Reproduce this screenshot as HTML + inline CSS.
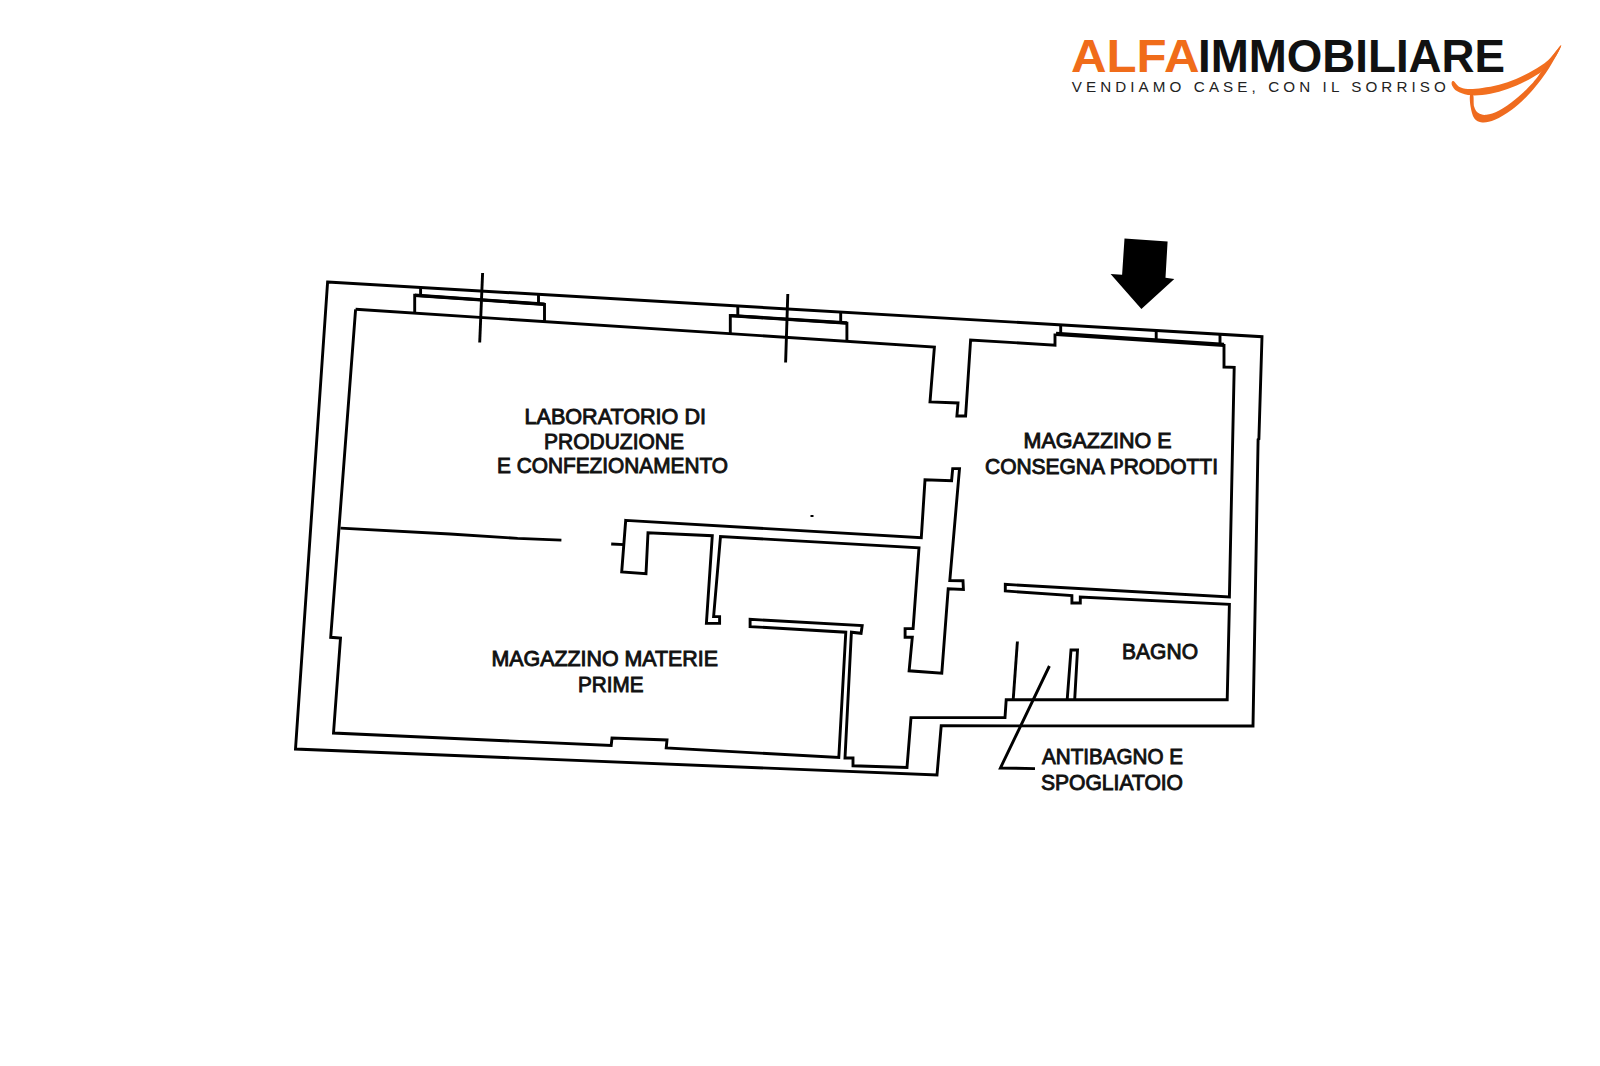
<!DOCTYPE html>
<html><head><meta charset="utf-8">
<style>
html,body{margin:0;padding:0;background:#fff;width:1600px;height:1066px;overflow:hidden}
svg{display:block}
.lbl{font-family:"Liberation Sans",sans-serif;font-weight:normal;font-size:21.4px;fill:#111;stroke:#111;stroke-width:0.9px}
</style></head>
<body>
<svg width="1600" height="1066" viewBox="0 0 1600 1066">
<rect width="1600" height="1066" fill="#fff"/>
<g fill="none" stroke="#000" stroke-width="2.9" stroke-linejoin="miter" stroke-linecap="butt">
<!-- outer wall -->
<path d="M327.6,282 L1262,336.7 L1258.9,439 L1258.1,439.5 L1253,726 L941.2,725.8 L937,775 L295.5,749 Z"/>
<!-- inner contour -->
<path d="M355.6,309.3 L934.4,347 L930,401.9 L958,403 L956.9,416 L965.6,416 L970.6,340 L1055,345.2 L1055,333.6"/>
<path d="M1224,344 L1224,367 L1234.2,367.3 L1229.4,597 L1005.3,584.4 L1005.3,591 L1071.9,595.6 L1071.9,603 L1080.3,603 L1080.3,597 L1229.4,604.4 L1227.2,699.7 L1006.2,699.7 L1005,717.6 L911,717.6 L907,767.4 L853,765.8 L853,758 L845,758 L851.4,632.2 L861.1,633.3 L862.2,625.5 L750.1,619.4 L750.1,626.6 L845.8,632.2 L838.8,757.5 L666.2,748 L667,740 L612,738 L611.2,745.5 L333.5,733 L340.5,638 L330.7,637.3 L355.6,309.3"/>
<!-- corridor wall polygon -->
<path d="M625.7,520.4 L921.3,537.6 L925,479.8 L951.6,480.7 L952.7,468.6 L959.5,468.6 L949.8,580.5 L963,580.7 L963.4,589.5 L948.2,588.7 L941.8,673.2 L909.1,670.8 L912.3,637.3 L905.1,637.3 L905.1,628.6 L913.1,628.6 L919,547.8 L720.5,536.5 L713.6,616.6 L719.6,616.6 L719.6,623.4 L706.4,623.2 L712.3,535.7 L648,532.8 L646,573.8 L621.7,572 Z"/>
<path d="M611.2,544 L624.3,544.6"/>
<!-- partition -->
<path d="M340.5,528.1 L450,534 L517.6,538.4 L561.4,540.1"/>
<!-- window 1 -->
<path d="M414.7,313.5 L414.7,295.3 L544.5,304.3 L544.5,321.5"/>
<path d="M420.6,287 L420.6,295.5 M538.5,294 L538.5,304"/>
<path d="M482.6,273 L479.7,342.5"/>
<!-- window 2 -->
<path d="M730.3,333.6 L730.3,315.6 L846.9,323 L846.9,341.3"/>
<path d="M737.8,305.6 L737.8,315.8 M840.7,311.6 L840.7,322.5"/>
<path d="M787.8,294 L785.6,362.5"/>
<!-- window 3 posts -->
<path d="M1060.7,324.5 L1060.7,334 M1156.2,330 L1156.2,340.5 M1220,333.8 L1220,344.5"/>
<!-- doors -->
<path d="M1017.4,641.5 L1013.2,699.7"/>
<path d="M1067.2,699.7 L1071,650 L1077.5,650 L1074.7,699.7"/>
<!-- leader -->
<path d="M1049.4,666 L1000.4,768 L1035,768.6"/>
</g>
<!-- thick window lines -->
<g fill="none" stroke="#000" stroke-width="3.4">
<path d="M414.7,295.3 L544.5,304.3"/>
<path d="M730.3,315.6 L846.9,323"/>
<path d="M1056,333.8 L1224,344.9" stroke-width="4.3"/>
</g>
<!-- arrow -->
<path d="M1124.5,238.4 L1167.6,241.4 L1165.5,277.7 L1174.3,279 L1141.4,309 L1110.6,273.9 L1122.1,274.8 Z" fill="#000"/>
<rect x="810.5" y="515" width="3" height="2" fill="#000"/>
<!-- labels -->
<g class="lbl">
<text x="524.50" y="424.0" textLength="181.50" lengthAdjust="spacingAndGlyphs" style="font-size:21.4px">LABORATORIO DI</text>
<text x="544.00" y="448.6" textLength="140.00" lengthAdjust="spacingAndGlyphs" style="font-size:21.4px">PRODUZIONE</text>
<text x="497.00" y="472.7" textLength="231.00" lengthAdjust="spacingAndGlyphs" style="font-size:21.4px">E CONFEZIONAMENTO</text>
<text x="1023.50" y="448.4" textLength="148.00" lengthAdjust="spacingAndGlyphs" style="font-size:21.4px">MAGAZZINO E</text>
<text x="985.00" y="473.6" textLength="233.00" lengthAdjust="spacingAndGlyphs" style="font-size:21.4px">CONSEGNA PRODOTTI</text>
<text x="491.50" y="666.3" textLength="226.50" lengthAdjust="spacingAndGlyphs" style="font-size:21.4px">MAGAZZINO MATERIE</text>
<text x="578.00" y="692.3" textLength="65.50" lengthAdjust="spacingAndGlyphs" style="font-size:21.4px">PRIME</text>
<text x="1122.00" y="659.0" textLength="76.00" lengthAdjust="spacingAndGlyphs" style="font-size:21.4px">BAGNO</text>
<text x="1042.00" y="764.3" textLength="141.00" lengthAdjust="spacingAndGlyphs" style="font-size:21.2px">ANTIBAGNO E</text>
<text x="1041.00" y="789.6" textLength="142.00" lengthAdjust="spacingAndGlyphs" style="font-size:21.2px">SPOGLIATOIO</text>
</g>
<!-- logo -->
<g font-family="Liberation Sans, sans-serif" font-weight="bold">
<text x="1071" y="71.7" font-size="46.5" fill="#F06C1A" textLength="128.5" lengthAdjust="spacingAndGlyphs">ALFA</text>
<text x="1198" y="71.7" font-size="46.5" fill="#111" textLength="307" lengthAdjust="spacingAndGlyphs">IMMOBILIARE</text>
</g>
<text x="1071.7" y="92.4" font-family="Liberation Sans, sans-serif" font-size="15.2" fill="#222" letter-spacing="4.1">VENDIAMO CASE, CON IL SORRISO</text>
<path fill="#F26F1F" d="M1560.7,45.6 C1559.3,46.4 1552.7,56.2 1548.1,60.3 C1543.4,64.5 1538.2,67.4 1532.9,70.5 C1527.5,73.6 1521.6,76.5 1516.0,78.9 C1510.3,81.3 1504.7,83.3 1499.1,84.8 C1493.5,86.3 1487.4,87.3 1482.2,88.0 C1477.0,88.7 1471.7,89.1 1467.9,88.9 C1464.0,88.6 1461.3,87.9 1459.0,86.7 C1456.7,85.4 1455.1,82.1 1453.9,81.3 C1452.7,80.5 1452.1,81.1 1451.8,81.9 C1451.5,82.6 1451.4,84.1 1452.2,85.7 C1453.1,87.2 1454.3,89.6 1456.9,91.1 C1459.5,92.7 1463.6,94.4 1467.9,95.1 C1472.1,95.8 1477.0,95.7 1482.2,95.1 C1487.4,94.5 1493.5,93.3 1499.1,91.7 C1504.7,90.2 1510.3,88.2 1516.0,85.8 C1521.6,83.4 1527.8,80.2 1532.9,77.2 C1537.9,74.2 1542.4,71.6 1546.4,67.9 C1550.3,64.3 1554.1,59.0 1556.5,55.3 C1558.9,51.5 1562.1,44.7 1560.7,45.6 Z"/>
<path fill="#EF6B1F" d="M1470.0,95.4 C1469.5,97.3 1469.9,103.0 1470.6,106.8 C1471.3,110.6 1472.2,115.5 1474.2,118.2 C1476.1,120.8 1478.8,122.1 1482.2,122.4 C1485.7,122.7 1489.9,121.9 1494.9,119.8 C1499.8,117.7 1506.1,113.9 1511.8,109.7 C1517.4,105.5 1523.0,100.6 1528.6,94.5 C1534.3,88.5 1540.9,80.0 1545.5,73.4 C1550.2,66.9 1554.0,59.9 1556.5,55.3 C1559.0,50.6 1562.9,43.3 1560.7,45.6 C1558.5,47.8 1548.1,62.6 1543.4,68.8 C1538.8,75.0 1537.4,77.7 1532.9,82.7 C1528.3,87.7 1521.6,94.1 1516.0,98.7 C1510.3,103.4 1504.0,107.9 1499.1,110.6 C1494.2,113.2 1489.9,114.4 1486.4,114.8 C1483.0,115.2 1480.4,114.4 1478.4,113.1 C1476.4,111.7 1475.0,109.7 1474.2,106.8 C1473.3,103.8 1474.0,97.3 1473.3,95.4 C1472.6,93.5 1470.4,93.5 1470.0,95.4 Z"/>
</svg>
</body></html>
